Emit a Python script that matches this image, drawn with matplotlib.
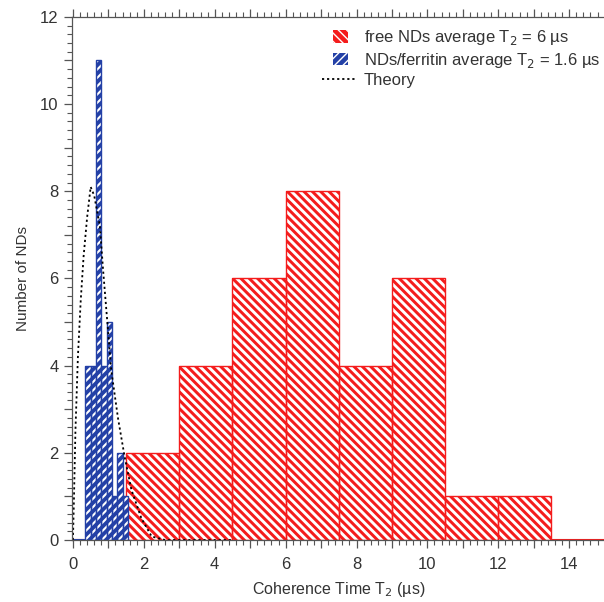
import matplotlib
matplotlib.use('Agg')
import matplotlib.pyplot as plt
from matplotlib.ticker import MultipleLocator, FuncFormatter
from matplotlib.legend_handler import HandlerPatch
from matplotlib.patches import Rectangle
import numpy as np

plt.rcParams['font.family'] = ['Liberation Sans', 'DejaVu Sans']

# free NDs histogram (bin edges in us, counts)
free_edges = [1.5, 3.0, 4.5, 6.0, 7.5, 9.0, 10.5, 12.0, 13.5]
free_counts = [2, 4, 6, 8, 4, 6, 1, 1]

# NDs/ferritin histogram
ferr_edges = [0.35, 0.5, 0.65, 0.8, 0.95, 1.1, 1.25, 1.4, 1.55]
ferr_counts = [4, 4, 11, 4, 5, 1, 2, 1]

# theory curve
theory_t = [0.0, 0.03, 0.07, 0.14, 0.22, 0.30, 0.40, 0.50, 0.60, 0.76, 0.85,
            0.94, 1.08, 1.27, 1.46, 1.65, 1.93, 2.22, 2.6, 4.5]
theory_n = [0.0, 1.0, 2.5, 4.2, 5.5, 6.5, 7.4, 8.1, 7.9, 7.2, 6.2,
            5.3, 3.9, 2.8, 1.9, 1.15, 0.5, 0.08, 0.0, 0.0]

red = '#f41c1c'
blue = '#2340a6'
txt = '#333333'

fig = plt.figure(figsize=(6.04, 6.02), dpi=100)
ax = fig.add_axes([0.119, 0.103, 0.885, 0.869])


def hatched_bars(edges, counts, color, hatch, hatch_lw, label):
    left = np.array(edges[:-1])
    width = np.diff(edges)
    with plt.rc_context({'hatch.linewidth': hatch_lw}):
        bars = ax.bar(left, counts, width=width, align='edge', color=color,
                      edgecolor='white', linewidth=0, hatch=hatch,
                      label=label)
    ax.bar(left, counts, width=width, align='edge', fill=False,
           edgecolor=color, linewidth=1.0)
    return bars


ax.axhline(0, color=red, lw=1.5, zorder=1)
ax.plot([0, 2.3], [0, 0], color=blue, lw=1.5, zorder=1)
b_free = hatched_bars(free_edges, free_counts, red, '\\\\\\\\', 2.1,
                      'free NDs average T$_2$ = 6 \u00b5s')
b_ferr = hatched_bars(ferr_edges, ferr_counts, blue, '////', 1.5,
                      'NDs/ferritin average T$_2$ = 1.6 \u00b5s')
theory, = ax.plot(theory_t, theory_n, ls=(0, (1.2, 1.6)), color='black',
                  lw=1.3, label='Theory')

ax.set_xlim(-0.03, 15.05)
ax.set_ylim(0, 12)

even_only = FuncFormatter(lambda v, p: '%d' % v if round(v) % 2 == 0 else '')
for axis in (ax.xaxis, ax.yaxis):
    axis.set_major_locator(MultipleLocator(1))
    axis.set_minor_locator(MultipleLocator(0.2))
    axis.set_major_formatter(even_only)

ax.tick_params(which='major', direction='out', length=6, width=0.9,
               color='#555555', labelsize=12, labelcolor=txt,
               top=True, right=False)
ax.tick_params(which='minor', direction='out', length=3.5, width=0.8,
               color='#555555', top=True, right=False)
ax.tick_params(axis='x', labeltop=False, pad=6)

for side in ('left', 'bottom', 'top'):
    ax.spines[side].set_color('#555555')
    ax.spines[side].set_linewidth(0.9)
ax.spines['right'].set_visible(False)

ax.set_xlabel('Coherence Time T$_2$ (\u00b5s)', fontsize=11.5, color=txt,
              labelpad=6)
ax.set_ylabel('Number of NDs', fontsize=11, color=txt, labelpad=7)


def small_square(legend, orig_handle, xdescent, ydescent, width, height,
                 fontsize):
    s = height * 1.05
    return Rectangle((width / 2 - s * 0.45 - xdescent,
                      -ydescent + (height - s) / 2), s * 1.2, s)


leg = ax.legend([b_free.patches[0], b_ferr.patches[0], theory],
                [b_free.get_label(), b_ferr.get_label(), theory.get_label()],
                loc='upper left', bbox_to_anchor=(0.468, 0.978),
                frameon=False, fontsize=12, handlelength=2.0,
                handleheight=0.7, handletextpad=0.5, labelspacing=0.2,
                borderpad=0, borderaxespad=0,
                handler_map={Rectangle: HandlerPatch(patch_func=small_square)})
for t in leg.get_texts():
    t.set_color(txt)

fig.savefig('out.png', dpi=100)
